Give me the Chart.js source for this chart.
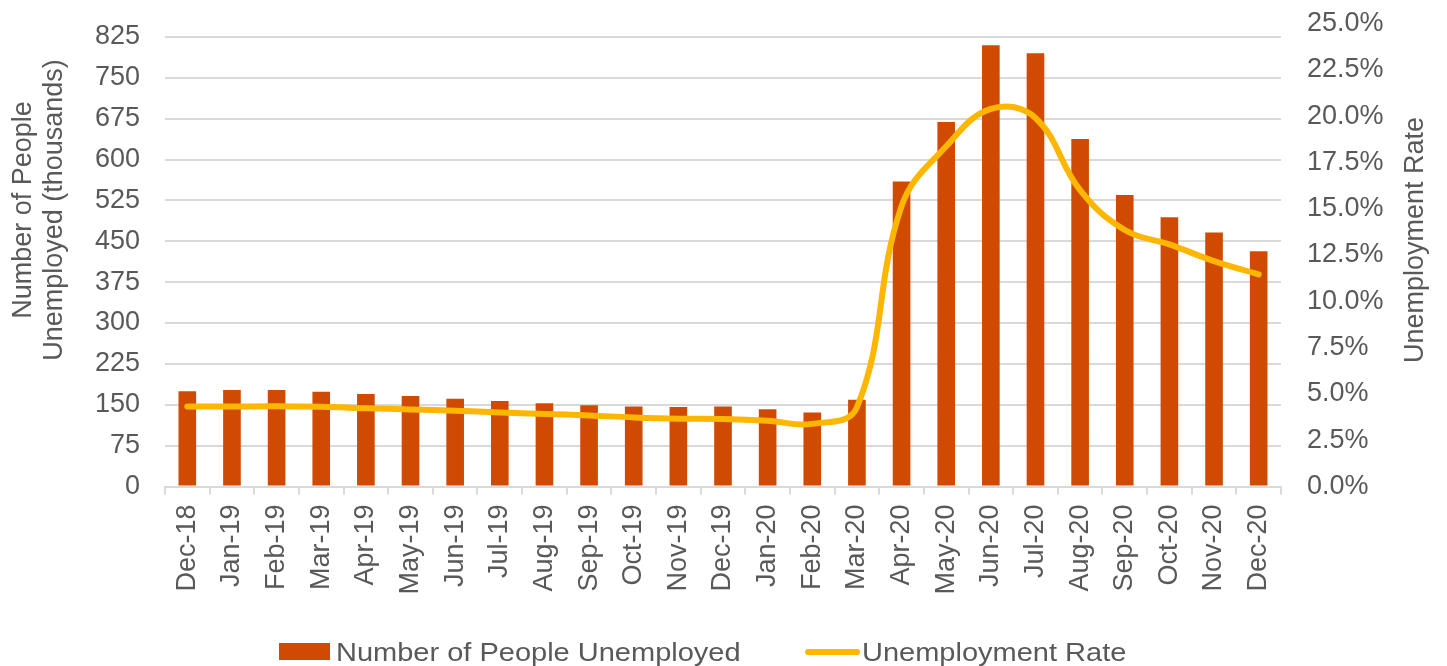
<!DOCTYPE html>
<html>
<head>
<meta charset="utf-8">
<script src="https://cdn.jsdelivr.net/npm/chart.js@4.4.1/dist/chart.umd.min.js"></script>
<style>
  html, body { margin: 0; padding: 0; background: #ffffff; }
  #wrap { position: relative; width: 1447px; height: 666px; overflow: hidden; }
  canvas { display: block; }
  .lg { position: absolute; font-family: "Liberation Sans", Arial, sans-serif; font-size: 25px; color: #595959; white-space: nowrap; line-height: 30px; transform-origin: left center; transform: scaleX(1.16); }
  .sw { position: absolute; }
</style>
</head>
<body>
<div id="wrap">
  <canvas id="c" width="1447" height="666"></canvas>
  <div class="sw" style="left:279px;top:643px;width:51px;height:17px;background:#D04A02;"></div>
  <div class="lg" style="left:336px;top:637px;">Number of People Unemployed</div>
  <div class="sw" style="left:805px;top:649px;width:55px;height:6px;border-radius:3px;background:#FFB600;"></div>
  <div class="lg" style="left:862px;top:637px;">Unemployment Rate</div>
</div>
<script>
const categories = ["Dec-18","Jan-19","Feb-19","Mar-19","Apr-19","May-19","Jun-19","Jul-19","Aug-19","Sep-19","Oct-19","Nov-19","Dec-19","Jan-20","Feb-20","Mar-20","Apr-20","May-20","Jun-20","Jul-20","Aug-20","Sep-20","Oct-20","Nov-20","Dec-20"];
const unemployedThousands = [175, 177, 177, 174, 170, 166, 161, 157, 153, 149, 147, 146, 147, 142, 136, 159, 560, 669, 810, 795, 638, 535, 494, 466, 432];
const unemploymentRate = [4.32, 4.32, 4.33, 4.3, 4.23, 4.16, 4.09, 4.0, 3.92, 3.84, 3.73, 3.66, 3.64, 3.55, 3.38, 4.27, 15.14, 18.37, 20.39, 19.9, 16.0, 13.85, 13.07, 12.17, 11.45];
const leftTicks = [0, 75, 150, 225, 300, 375, 450, 525, 600, 675, 750, 825];
const rightTicks = [0, 2.5, 5, 7.5, 10, 12.5, 15, 17.5, 20, 22.5, 25];
const seriesNames = ["Number of People Unemployed", "Unemployment Rate"];
const leftTitle = ["Number of People", "Unemployed (thousands)"];
const rightTitle = "Unemployment Rate";

const FONT = '"Liberation Sans", Arial, sans-serif';
const TXT = '#595959';
const GRID = '#d9d9d9';

const titlePlugin = {
  id: 'axisTitles',
  afterDraw(chart) {
    const ctx = chart.ctx;
    ctx.save();
    ctx.fillStyle = TXT;
    ctx.font = '27px ' + FONT;
    ctx.textAlign = 'center';
    ctx.textBaseline = 'middle';
    ctx.save();
    ctx.translate(24, 210);
    ctx.rotate(-Math.PI / 2);
    ctx.fillText(leftTitle[0], 0, 0);
    ctx.restore();
    ctx.save();
    ctx.translate(55, 210);
    ctx.rotate(-Math.PI / 2);
    ctx.fillText(leftTitle[1], 0, 0);
    ctx.restore();
    ctx.save();
    ctx.translate(1416, 240);
    ctx.rotate(-Math.PI / 2);
    ctx.fillText(rightTitle, 0, 0);
    ctx.restore();
    ctx.restore();
  }
};

new Chart(document.getElementById('c'), {
  type: 'bar',
  data: {
    labels: categories,
    datasets: [
      {
        type: 'line',
        label: seriesNames[1],
        data: unemploymentRate,
        yAxisID: 'y2',
        borderColor: '#FFB600',
        backgroundColor: '#FFB600',
        borderWidth: 6,
        tension: 0.4,
        pointRadius: 0,
        pointHoverRadius: 0,
        borderCapStyle: 'round',
        borderJoinStyle: 'round',
        fill: false,
        order: 1
      },
      {
        type: 'bar',
        label: seriesNames[0],
        data: unemployedThousands,
        yAxisID: 'y',
        backgroundColor: '#D04A02',
        borderWidth: 0,
        barPercentage: 0.395,
        categoryPercentage: 1,
        order: 2
      }
    ]
  },
  options: {
    responsive: false,
    animation: false,
    layout: { padding: { top: 37, left: 0, right: 0, bottom: 0 } },
    plugins: { legend: { display: false }, tooltip: { enabled: false } },
    scales: {
      x: {
        grid: { offset: true, drawOnChartArea: false, drawTicks: true, tickLength: 8, color: GRID, lineWidth: 2 },
        border: { display: true, color: GRID, width: 2 },
        ticks: { autoSkip: false, minRotation: 90, maxRotation: 90, padding: 10, color: TXT, font: { family: FONT, size: 27 } },
        afterFit(scale) { scale.height = 179.5; scale.paddingLeft = 0; scale.paddingRight = 0; }
      },
      y: {
        position: 'left',
        min: 0,
        max: 825,
        afterBuildTicks(scale) { scale.ticks = leftTicks.map(v => ({ value: v })); },
        grid: { color: GRID, lineWidth: 2, drawTicks: false },
        border: { display: false },
        ticks: { padding: 25, color: TXT, font: { family: FONT, size: 27 } },
        afterFit(scale) { scale.width = 165; scale.paddingTop = 0; scale.paddingBottom = 0; }
      },
      y2: {
        position: 'right',
        min: 0,
        max: 25 * 449.5 / 463,
        afterBuildTicks(scale) { scale.ticks = rightTicks.map(v => ({ value: v })); },
        grid: { display: false, drawTicks: false },
        border: { display: false },
        ticks: { padding: 26, color: TXT, font: { family: FONT, size: 27 }, callback: v => Number(v).toFixed(1) + '%' },
        afterFit(scale) { scale.width = 166; scale.paddingTop = 0; scale.paddingBottom = 0; }
      }
    }
  },
  plugins: [titlePlugin]
});
</script>
</body>
</html>
